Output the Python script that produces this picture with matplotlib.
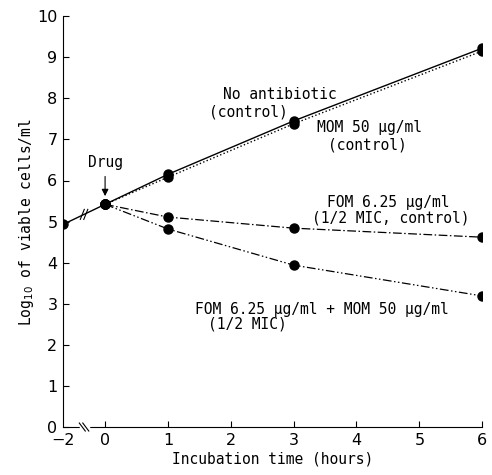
import numpy as np
import matplotlib
matplotlib.use("Agg")
import matplotlib.pyplot as plt
from matplotlib.lines import Line2D
from matplotlib.transforms import IdentityTransform

# data
pre_time = [-2, 0]
pre_log = [4.93, 5.42]

times = [0, 1, 3, 6]
no_antibiotic = [5.42, 6.15, 7.45, 9.22]
mom_50 = [5.42, 6.08, 7.38, 9.15]
fom_625 = [5.42, 5.11, 4.84, 4.62]
fom_mom = [5.42, 4.82, 3.94, 3.19]

xtick_vals = [-2, 0, 1, 2, 3, 4, 5, 6]

# axis is broken between -2 and 0: squeeze the negative part
def squeeze(t):
    t = np.asarray(t, dtype=float)
    return np.where(t < 0, t / 2 * 0.67, t)

mono = "DejaVu Sans Mono"
fs = 10.5

fig = plt.figure(figsize=(4.92, 4.75), dpi=100)
ax = fig.add_axes([0.128, 0.101, 0.852, 0.865])

ax.plot(squeeze(pre_time), pre_log, "-", color="k", lw=1.0,
        marker="o", ms=6.5)
ax.plot(squeeze(times), no_antibiotic, "-", color="k", lw=1.0,
        marker="o", ms=6.5)
ax.plot(squeeze(times), mom_50, ":", color="k", lw=1.0,
        marker="o", ms=6.5)
ax.plot(squeeze(times), fom_625, color="k", lw=0.9,
        dashes=(7, 2, 1.2, 2), marker="o", ms=6.5)
ax.plot(squeeze(times), fom_mom, color="k", lw=0.9,
        dashes=(7, 2, 1.2, 2, 1.2, 2), marker="o", ms=6.5)

ax.set_xlim(squeeze(-2), 6)
ax.set_ylim(0, 10)
ax.set_xticks(squeeze(xtick_vals))
ax.set_xticklabels(["\u22122"] + [str(v) for v in xtick_vals[1:]])
ax.set_yticks(range(0, 11))
ax.tick_params(direction="in", length=4, width=0.8, labelsize=11.5)
ax.tick_params(axis="x", pad=4)
ax.tick_params(axis="y", pad=4)
ax.xaxis.get_major_ticks()[0].tick1line.set_visible(False)
for s in ["top", "right"]:
    ax.spines[s].set_visible(False)

# break marks (two short slanted strokes, drawn in pixels)
def break_marks(x, y, dx, dy, gap, blank=False):
    px, py = ax.transData.transform((x, y))
    if blank:
        fig.add_artist(Line2D([px - gap, px + gap], [py, py], color="white",
                              lw=2.5, transform=IdentityTransform()))
    for off in (-gap / 2, gap / 2):
        fig.add_artist(Line2D([px + off - dx, px + off + dx],
                              [py - dy, py + dy], color="k", lw=0.8,
                              transform=IdentityTransform()))

brk_x = squeeze(-2) / 2
break_marks(brk_x, 0, -3, 4, 3.5, blank=True)
break_marks(brk_x, (pre_log[0] + pre_log[1]) / 2, 2, 5, 3.5)

ax.set_xlabel("Incubation time (hours)", fontname=mono, fontsize=fs,
              labelpad=3)
ax.set_ylabel("Log$_{10}$ of viable cells/ml", fontname=mono, fontsize=fs,
              labelpad=1)

ax.annotate("Drug", xy=(0, 5.62), xytext=(0, 6.45), ha="center",
            va="center", fontname=mono, fontsize=fs,
            arrowprops=dict(arrowstyle="-|>", color="k", lw=0.8,
                            mutation_scale=10, shrinkA=3, shrinkB=0))

ax.text(2.78, 8.1, "No antibiotic", fontname=mono, fontsize=fs,
        ha="center", va="center")
ax.text(2.28, 7.66, "(control)", fontname=mono, fontsize=fs,
        ha="center", va="center")
ax.text(4.21, 7.3, "MOM 50 \u03bcg/ml", fontname=mono, fontsize=fs,
        ha="center", va="center")
ax.text(4.18, 6.86, "(control)", fontname=mono, fontsize=fs,
        ha="center", va="center")
ax.text(4.5, 5.47, "FOM 6.25 \u03bcg/ml", fontname=mono, fontsize=fs,
        ha="center", va="center")
ax.text(4.55, 5.08, "(1/2 MIC, control)", fontname=mono, fontsize=fs,
        ha="center", va="center")
ax.text(1.43, 2.87, "FOM 6.25 \u03bcg/ml + MOM 50 \u03bcg/ml", fontname=mono,
        fontsize=fs, ha="left", va="center")
ax.text(1.64, 2.51, "(1/2 MIC)", fontname=mono, fontsize=fs,
        ha="left", va="center")

fig.savefig("out.png", dpi=100)
